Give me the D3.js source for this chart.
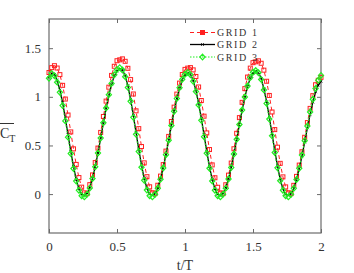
<!DOCTYPE html>
<html>
<head>
<meta charset="utf-8">
<script src="https://cdn.jsdelivr.net/npm/d3@7"></script>
<style>
  body { margin: 0; background: #fff; }
  svg { display: block; font-family: "Liberation Serif", "DejaVu Serif", serif; }
</style>
</head>
<body>
<div id="viz-container"></div>
<script>
// time axis, t/T
let times = d3.range(101).map(i => +(i * 0.02).toFixed(2));

let grid1 = [1.25, 1.30, 1.32, 1.296, 1.228, 1.118, 0.977, 0.813, 0.639, 0.465,
  0.305, 0.170, 0.071, 0.013, 0.005, 0.097, 0.197, 0.324, 0.473, 0.634,
  0.798, 0.956, 1.099, 1.220, 1.314, 1.371, 1.38, 1.39, 1.365, 1.293,
  1.177, 1.029, 0.856, 0.673, 0.489, 0.321, 0.179, 0.075, 0.014, 0.005,
  0.091, 0.185, 0.303, 0.442, 0.593, 0.746, 0.894, 1.028, 1.141, 1.229,
  1.282, 1.295, 1.30, 1.277, 1.209, 1.101, 0.962, 0.801, 0.629, 0.458,
  0.300, 0.168, 0.070, 0.013, 0.005, 0.096, 0.195, 0.319, 0.466, 0.625,
  0.786, 0.943, 1.084, 1.203, 1.295, 1.351, 1.36, 1.37, 1.345, 1.274,
  1.160, 1.014, 0.844, 0.663, 0.482, 0.316, 0.177, 0.074, 0.014, 0.005,
  0.090, 0.182, 0.298, 0.435, 0.584, 0.735, 0.881, 1.012, 1.124, 1.17, 1.20];

let grid2 = [1.20, 1.24, 1.23, 1.17, 1.07, 0.94, 0.78, 0.61, 0.44, 0.285,
  0.15, 0.055, 0.0, -0.012, 0.008, 0.068, 0.162, 0.282, 0.422, 0.575,
  0.73, 0.88, 1.015, 1.13, 1.215, 1.265, 1.285, 1.275, 1.22, 1.115,
  0.975, 0.81, 0.635, 0.46, 0.30, 0.16, 0.06, 0.0, -0.012, 0.006,
  0.065, 0.155, 0.27, 0.405, 0.553, 0.703, 0.85, 0.98, 1.09, 1.175,
  1.225, 1.245, 1.232, 1.17, 1.068, 0.935, 0.778, 0.61, 0.44, 0.283,
  0.15, 0.052, -0.002, -0.012, 0.007, 0.065, 0.157, 0.275, 0.413, 0.563,
  0.715, 0.862, 0.995, 1.107, 1.192, 1.243, 1.262, 1.25, 1.19, 1.085,
  0.95, 0.79, 0.618, 0.447, 0.288, 0.153, 0.053, -0.002, -0.012, 0.005,
  0.06, 0.148, 0.26, 0.39, 0.535, 0.68, 0.82, 0.945, 1.05, 1.12, 1.16];

let grid3 = [1.19, 1.24, 1.217, 1.151, 1.046, 0.910, 0.752, 0.585, 0.417, 0.263,
  0.134, 0.039, -0.017, -0.029, -0.001, 0.063, 0.159, 0.280, 0.422, 0.576,
  0.733, 0.885, 1.022, 1.138, 1.227, 1.281, 1.30, 1.276, 1.207, 1.097,
  0.954, 0.789, 0.614, 0.438, 0.277, 0.142, 0.042, -0.017, -0.029, -0.002,
  0.060, 0.152, 0.268, 0.405, 0.554, 0.705, 0.851, 0.982, 1.094, 1.180,
  1.232, 1.25, 1.227, 1.160, 1.054, 0.917, 0.758, 0.590, 0.421, 0.266,
  0.135, 0.039, -0.017, -0.029, -0.001, 0.061, 0.155, 0.273, 0.412, 0.563,
  0.716, 0.864, 0.998, 1.111, 1.199, 1.252, 1.27, 1.247, 1.179, 1.071,
  0.932, 0.771, 0.599, 0.428, 0.270, 0.138, 0.040, -0.017, -0.029, -0.002,
  0.059, 0.150, 0.266, 0.402, 0.549, 0.699, 0.844, 0.975, 1.085, 1.170, 1.22];

let xTicks = [0, 0.5, 1, 1.5, 2];
let yTicks = [0, 0.5, 1, 1.5];
let seriesNames = ["GRID 1", "GRID 2", "GRID 3"];

let w = 354, h = 273;
let mLeft = 49, mRight = 321, mTop = 19, mBottom = 233;

let viz = d3.select("#viz-container")
  .append("svg")
    .attr("width", w)
    .attr("height", h);

let x = d3.scaleLinear().domain([0, 2]).range([mLeft, mRight]);
let y = d3.scaleLinear().domain([-0.4, 1.8]).range([mBottom, mTop]);

let axisColor = "#6b6b6b";

// frame
viz.append("rect")
  .attr("x", mLeft).attr("y", mTop)
  .attr("width", mRight - mLeft).attr("height", mBottom - mTop)
  .attr("fill", "none").attr("stroke", axisColor).attr("stroke-width", 1.2);

function styleAxis(g){
  g.select(".domain").remove();
  g.selectAll(".tick line").attr("stroke", axisColor);
  g.selectAll(".tick text").attr("fill", "#333").style("font-size", "13px")
    .style("font-family", "Liberation Serif, DejaVu Serif, serif");
}

viz.append("g").attr("transform", "translate(0," + mBottom + ")")
  .call(d3.axisBottom(x).tickValues(xTicks).tickFormat(d3.format("")).tickSizeInner(-4).tickPadding(9))
  .call(styleAxis);
viz.append("g").attr("transform", "translate(0," + mTop + ")")
  .call(d3.axisTop(x).tickValues(xTicks).tickSizeInner(-4).tickFormat(""))
  .call(styleAxis);
viz.append("g").attr("transform", "translate(" + mLeft + ",0)")
  .call(d3.axisLeft(y).tickValues(yTicks).tickFormat(d3.format("")).tickSizeInner(-4).tickPadding(8))
  .call(styleAxis);
viz.append("g").attr("transform", "translate(" + mRight + ",0)")
  .call(d3.axisRight(y).tickValues(yTicks).tickSizeInner(-4).tickFormat(""))
  .call(styleAxis);

// labels
viz.append("text")
  .attr("x", (mLeft + mRight) / 2).attr("y", 270)
  .attr("text-anchor", "middle")
  .style("font-size", "14px").attr("fill", "#333")
  .text("t/T");

let yl = viz.append("text").attr("x", 0).attr("y", 138)
  .style("font-size", "14px").attr("fill", "#333");
yl.append("tspan").text("C");
yl.append("tspan").attr("dy", 4).style("font-size", "10px").text("T");
viz.append("line")
  .attr("x1", 0).attr("x2", 14).attr("y1", 123.5).attr("y2", 123.5)
  .attr("stroke", "#333").attr("stroke-width", 1);

let line = d3.line().x(d => x(d[0])).y(d => y(d[1]));
let plot = viz.append("g");

function pts(vals){ return times.map((t, i) => [t, vals[i]]); }

// grid 1: red dashed, open squares
plot.append("path").datum(pts(grid1)).attr("d", line)
  .attr("fill", "none").attr("stroke", "#ff2020").attr("stroke-width", 1)
  .attr("stroke-dasharray", "4,3");
plot.selectAll(".sq").data(pts(grid1)).enter().append("rect")
  .attr("class", "sq")
  .attr("x", d => x(d[0]) - 2).attr("y", d => y(d[1]) - 2)
  .attr("width", 4).attr("height", 4)
  .attr("fill", "none").attr("stroke", "#ff2020").attr("stroke-width", 1);

// grid 2: black solid, small crosses
plot.append("path").datum(pts(grid2)).attr("d", line)
  .attr("fill", "none").attr("stroke", "#000").attr("stroke-width", 1.3);
plot.selectAll(".cr").data(pts(grid2)).enter().append("path")
  .attr("class", "cr")
  .attr("d", d => {
    let cx = x(d[0]), cy = y(d[1]);
    return "M" + (cx - 1.2) + "," + (cy - 1.2) + "L" + (cx + 1.2) + "," + (cy + 1.2) +
      "M" + (cx - 1.2) + "," + (cy + 1.2) + "L" + (cx + 1.2) + "," + (cy - 1.2);
  })
  .attr("stroke", "#000").attr("stroke-width", 1);

// grid 3: green dotted, open diamonds
plot.append("path").datum(pts(grid3)).attr("d", line)
  .attr("fill", "none").attr("stroke", "#22ee22").attr("stroke-width", 1.2)
  .attr("stroke-dasharray", "1.5,1.5");
plot.selectAll(".dm").data(pts(grid3)).enter().append("path")
  .attr("class", "dm")
  .attr("d", d => {
    let cx = x(d[0]), cy = y(d[1]);
    return "M" + cx + "," + (cy - 2.8) + "L" + (cx + 2.6) + "," + cy +
      "L" + cx + "," + (cy + 2.8) + "L" + (cx - 2.6) + "," + cy + "Z";
  })
  .attr("fill", "none").attr("stroke", "#22ee22").attr("stroke-width", 1.2);

// legend
let legend = viz.append("g");
let legY = [32.5, 44.5, 57];
seriesNames.forEach((name, i) => {
  let g = legend.append("g").attr("transform", "translate(0," + legY[i] + ")");
  let col = ["#ff2020", "#000", "#22ee22"][i];
  let dash = ["4,3", null, "1.5,1.5"][i];
  g.append("line").attr("x1", 190).attr("x2", 215).attr("y1", 0).attr("y2", 0)
    .attr("stroke", col).attr("stroke-width", i == 1 ? 1.3 : 1.2)
    .attr("stroke-dasharray", dash);
  if(i == 0){
    g.append("rect").attr("x", 200.5).attr("y", -2).attr("width", 4).attr("height", 4)
      .attr("fill", "#ff2020").attr("stroke", "#ff2020");
  } else if(i == 1){
    g.append("path").attr("d", "M201.3,-1.2L203.7,1.2M201.3,1.2L203.7,-1.2")
      .attr("stroke", "#000");
  } else {
    g.append("path").attr("d", "M202.5,-2.8L205.1,0L202.5,2.8L199.9,0Z")
      .attr("fill", "none").attr("stroke", "#22ee22").attr("stroke-width", 1.2);
  }
  g.append("text").attr("x", 217).attr("y", 3.5)
    .style("font-size", "10px").style("letter-spacing", "1.6px")
    .attr("fill", "#333")
    .text(name);
});
</script>
</body>
</html>
